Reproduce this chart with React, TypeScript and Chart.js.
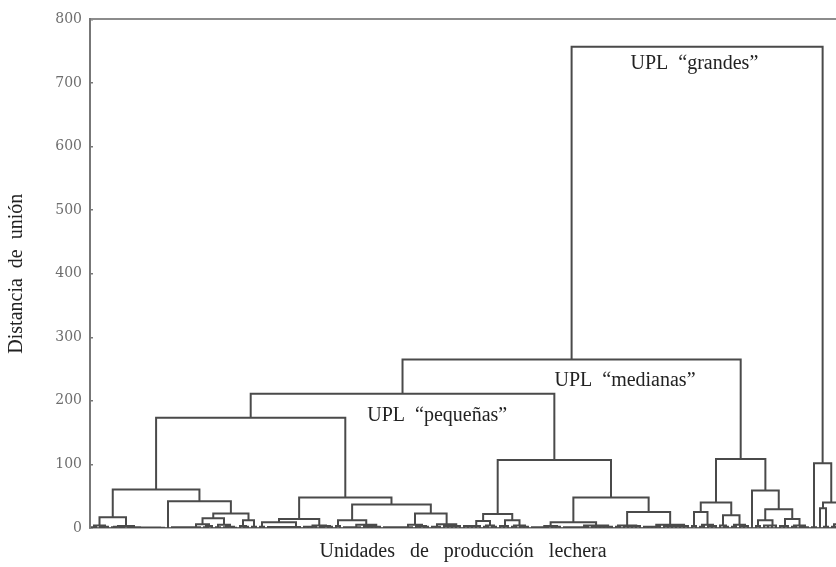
import React, { useEffect, useRef } from "react";
import { Chart, registerables } from "chart.js";

Chart.register(...registerables);

// ---------- data ----------
// A node is [mergeHeight, child1, child2, ...] (extra children are merged in order
// at the same height); a leaf (one production unit) is L.
const L = 0;

// y-axis (joining distance) ticks
const yTicks = [0, 100, 200, 300, 400, 500, 600, 700, 800];
const yMax = 800;
// number of leaf slots shown on the x axis (the last units run past the frame)
const xVisibleLeaves = 186.5;

// --- UPL "pequeñas", first group ---
const smallA = [17,
  [4, [1, L, L], [2, [1, L, L], L]],
  [3, [2, [1, L, L], [1, L, L]], [1, L, [0.8, L, [0.6, L, [0.5, L, L, L, L, L, L, L]]]]],
];
const smallB = [42,
  L,
  [23,
    [15.5, [6, [1, L, L, L, L, L, L, L, L], [3, [1, L, L], L]], [5, [1, L, L], [2, [1, L, L], [0.5, L, L]]]],
    [12, [3, L, [2, L, L]], [2, L, L]],
  ],
];
const smallC = [48,
  [14,
    [9, [2, L, L], [1.5, L, L, L, L, L, L, L, L, L]],
    [4, [2, L, L, L, L], [3, [1, L, L], [2, L, L]]],
  ],
  [37,
    [12, [3, L, L], [5, [1, L, L, L, L, L], [2, L, L, L, L, L]]],
    [23,
      [5, [1, L, L, L, L, L, L, L, L], [3, [2, L, L], [2, L, L]]],
      [6, [2, L, L, L], [3, L, L, L, L, L]],
    ],
  ],
];
const smallD = [22,
  [11, [3, L, L, L, L, L], [4, [2, L, L], [2, L, L]]],
  [12, [3, L, L, L], [4, [2, L, L], [2, L, L, L]]],
];
const smallE = [48,
  [9,
    [3, [1, L, L, L, L, L], [2, L, L, L]],
    [4, [1, L, L, L, L, L, L, L], [2, L, L, L, L, L, L]],
  ],
  [25,
    [4, [2, L, L], [3, L, L, L, L, L]],
    [5, [2, L, L, L, L, L], [3, L, L, L, L, L, L, L]],
  ],
];
// --- UPL "medianas" ---
const mediumA = [40,
  [25, [3, L, L], [5, [2, L, L], [3, L, L, L]]],
  [20, [4, L, [2, L, L]], [5, [2, L, L], [3, L, L, L]]],
];
const mediumB = [59,
  L,
  [29.5,
    [12, [3, L, L], [4, L, L, L, L]],
    [14, [3, L, L, L], [4, [2, L, L], [1, L, L, L]]],
  ],
];
// --- UPL "grandes" ---
const largeA = [1, L, L];
const largeB = [40, [31, L, [2, L, L]], [6, [2, L, L], [3, L, L, L]]];

// upper merges
const pequenas = [211, [173.5, [60.5, smallA, smallB], smallC], [107, smallD, smallE]];
const medianas = [108.5, mediumA, mediumB];
const grandes = [102, largeA, largeB];
const tree = [757, [265, pequenas, medianas], grandes];

// annotations: text, position along the leaves, height
const labelTexts = ["UPL  \u201cgrandes\u201d", "UPL  \u201cmedianas\u201d", "UPL  \u201cpeque\u00f1as\u201d"];
const labelLeaf = [151.1, 133.75, 86.8];
const labelHeight = [731, 232, 177];

const yTitle = "Distancia  de  uni\u00f3n";
const xTitle = "Unidades   de   producci\u00f3n   lechera";

// ---------- dendrogram layout (leaf order + heights -> line points) ----------
type Pt = { x: number; y: number | null };
function layoutTree(node: any, state: { next: number }, pts: Pt[]): { x: number; h: number } {
  if (!Array.isArray(node)) {
    const x = state.next + 0.5;
    state.next += 1;
    return { x, h: 0 };
  }
  const [h, ...kids] = node;
  let acc = layoutTree(kids[0], state, pts);
  for (let k = 1; k < kids.length; k++) {
    const r = layoutTree(kids[k], state, pts);
    pts.push({ x: acc.x, y: acc.h }, { x: acc.x, y: h }, { x: r.x, y: h }, { x: r.x, y: r.h }, { x: r.x, y: null });
    acc = { x: (acc.x + r.x) / 2, h };
  }
  return acc;
}

const serif = "'Liberation Serif', 'Times New Roman', serif";

export default function App() {
  const ref = useRef<HTMLCanvasElement | null>(null);

  useEffect(() => {
    if (!ref.current) return;
    const pts: Pt[] = [];
    layoutTree(tree, { next: 0 }, pts);

    const labelPlugin = {
      id: "clusterLabels",
      afterDatasetsDraw(chart: any) {
        const { ctx, scales } = chart;
        ctx.save();
        ctx.font = `20px ${serif}`;
        ctx.fillStyle = "#222";
        ctx.textAlign = "center";
        ctx.textBaseline = "middle";
        labelTexts.forEach((t, i) => {
          ctx.fillText(t, scales.x.getPixelForValue(labelLeaf[i]), scales.y.getPixelForValue(labelHeight[i]));
        });
        ctx.restore();
      },
    };

    const chart = new Chart(ref.current, {
      type: "line",
      data: {
        datasets: [
          {
            data: pts as any,
            borderColor: "#4a4a4a",
            borderWidth: 2,
            pointRadius: 0,
            tension: 0,
            spanGaps: false,
            borderCapStyle: "butt",
            borderJoinStyle: "miter",
          },
        ],
      },
      options: {
        animation: false,
        responsive: false,
        devicePixelRatio: 1,
        layout: { padding: { top: 12, left: 0, right: 0, bottom: 0 } },
        plugins: { legend: { display: false }, tooltip: { enabled: false } },
        scales: {
          x: {
            type: "linear",
            position: "bottom",
            min: 0,
            max: xVisibleLeaves,
            ticks: { display: false },
            grid: { display: false },
            border: { display: true, color: "#666", width: 1.5 },
            title: {
              display: true,
              text: xTitle,
              color: "#222",
              font: { family: serif, size: 20 },
              padding: { top: 0, bottom: 3.5 },
            },
            afterFit: (s: any) => {
              s.height = 39;
            },
          },
          xTop: {
            type: "linear",
            position: "top",
            min: 0,
            max: xVisibleLeaves,
            display: true,
            ticks: { display: false },
            grid: { display: false },
            border: { display: true, color: "#8c8c8c", width: 2, dash: [2, 1] },
            afterFit: (s: any) => {
              s.height = 0;
            },
          },
          y: {
            type: "linear",
            position: "left",
            min: 0,
            max: yMax,
            afterBuildTicks: (s: any) => {
              s.ticks = yTicks.map((v) => ({ value: v }));
            },
            ticks: {
              color: "#6e6e6e",
              font: { family: "'DejaVu Serif', serif", size: 14 },
              padding: 11,
            },
            grid: { drawOnChartArea: false, drawTicks: true, tickLength: -3, color: "#777", lineWidth: 1.5 },
            border: { display: true, color: "#777", width: 2 },
            title: {
              display: true,
              text: yTitle,
              color: "#222",
              font: { family: serif, size: 20 },
              padding: { top: 5, bottom: 0 },
            },
            afterFit: (s: any) => {
              s.width = 90;
            },
          },
        },
      },
      plugins: [labelPlugin],
    } as any);

    return () => chart.destroy();
  }, []);

  return (
    <div style={{ position: "absolute", left: 0, top: 0, width: 836, height: 567, background: "#fff" }}>
      <canvas ref={ref} width={836} height={567} />
    </div>
  );
}
